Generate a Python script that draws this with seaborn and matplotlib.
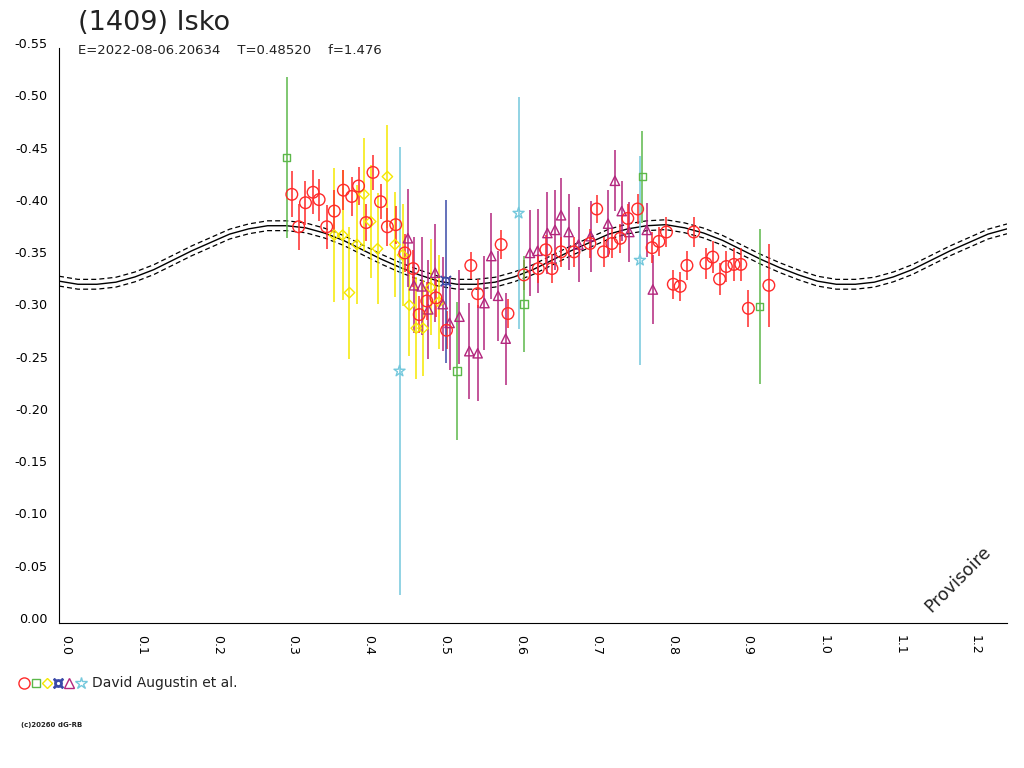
#Libreria
import matplotlib
matplotlib.use("Agg")
import numpy as np
import matplotlib.pyplot as plt
from matplotlib.lines import Line2D
import seaborn as sns

#Datos (fase, magnitud, error)
red_phase = [0.307, 0.316, 0.325, 0.335, 0.343, 0.353, 0.363, 0.375, 0.386, 0.395,
             0.405, 0.414, 0.424, 0.433, 0.444, 0.456, 0.467, 0.475, 0.485, 0.497,
             0.511, 0.543, 0.552, 0.583, 0.592, 0.613, 0.632, 0.642, 0.650, 0.662,
             0.679, 0.700, 0.709, 0.718, 0.729, 0.740, 0.750, 0.763, 0.782, 0.791,
             0.801, 0.810, 0.819, 0.828, 0.837, 0.853, 0.862, 0.871, 0.880, 0.890,
             0.899, 0.909, 0.936]
red_mag = [-0.410, -0.379, -0.402, -0.412, -0.405, -0.379, -0.394, -0.414, -0.408, -0.418,
           -0.383, -0.431, -0.403, -0.379, -0.381, -0.354, -0.339, -0.295, -0.308, -0.311,
           -0.280, -0.342, -0.315, -0.362, -0.296, -0.333, -0.339, -0.357, -0.339, -0.355,
           -0.355, -0.363, -0.396, -0.355, -0.363, -0.368, -0.387, -0.396, -0.359, -0.365,
           -0.374, -0.324, -0.322, -0.342, -0.374, -0.344, -0.350, -0.329, -0.341, -0.343,
           -0.343, -0.301, -0.323]
red_err = [0.022, 0.022, 0.021, 0.021, 0.020, 0.021, 0.020, 0.019, 0.019, 0.018,
           0.018, 0.017, 0.017, 0.018, 0.018, 0.018, 0.018, 0.018, 0.018, 0.018,
           0.018, 0.013, 0.014, 0.014, 0.014, 0.014, 0.014, 0.014, 0.014, 0.014,
           0.014, 0.014, 0.013, 0.014, 0.014, 0.014, 0.014, 0.014, 0.015, 0.014,
           0.014, 0.014, 0.014, 0.014, 0.014, 0.015, 0.015, 0.015, 0.015, 0.016,
           0.016, 0.018, 0.040]

green_phase = [0.300, 0.525, 0.613, 0.769, 0.924]
green_mag = [-0.445, -0.241, -0.305, -0.427, -0.303]
green_err = [0.077, 0.066, 0.046, 0.044, 0.074]

yellow_phase = [0.363, 0.374, 0.383, 0.393, 0.402, 0.411, 0.420, 0.433, 0.443, 0.453,
                0.462, 0.471, 0.480, 0.490, 0.501]
yellow_mag = [-0.371, -0.371, -0.316, -0.362, -0.410, -0.384, -0.358, -0.427, -0.362, -0.352,
              -0.304, -0.282, -0.282, -0.321, -0.307]
yellow_err = [0.064, 0.062, 0.063, 0.057, 0.054, 0.054, 0.053, 0.049, 0.050, 0.049,
              0.049, 0.049, 0.046, 0.046, 0.045]

blue_phase = [0.510]
blue_mag = [-0.327]
blue_err = [0.078]

tri_phase = [0.460, 0.468, 0.478, 0.487, 0.496, 0.506, 0.515, 0.528, 0.541, 0.552,
             0.561, 0.570, 0.579, 0.589, 0.621, 0.631, 0.644, 0.654, 0.662, 0.672,
             0.685, 0.701, 0.724, 0.733, 0.742, 0.752, 0.775, 0.783]
tri_mag = [-0.368, -0.323, -0.322, -0.300, -0.335, -0.305, -0.287, -0.293, -0.260, -0.258,
           -0.306, -0.351, -0.313, -0.272, -0.354, -0.356, -0.373, -0.376, -0.390, -0.374,
           -0.362, -0.370, -0.382, -0.423, -0.394, -0.374, -0.376, -0.319]
tri_err = [0.047, 0.046, 0.047, 0.047, 0.047, 0.045, 0.045, 0.045, 0.046, 0.046,
           0.045, 0.041, 0.043, 0.044, 0.041, 0.040, 0.039, 0.038, 0.036, 0.036,
           0.036, 0.034, 0.032, 0.029, 0.029, 0.029, 0.026, 0.033]

star_phase = [0.449, 0.606, 0.766]
star_mag = [-0.241, -0.392, -0.347]
star_err = [0.214, 0.111, 0.100]

#Curva ajustada leida cada 0.025 de fase
curve_phase = [round(0.025 * i, 3) for i in range(51)]
curve_mag = [-0.327, -0.324, -0.324, -0.326, -0.331, -0.338, -0.347, -0.356, -0.364, -0.372,
             -0.377, -0.380, -0.380, -0.378, -0.373, -0.366, -0.357, -0.348, -0.340, -0.333,
             -0.327, -0.324, -0.324, -0.326, -0.331, -0.338, -0.347, -0.356, -0.364, -0.372,
             -0.377, -0.380, -0.381, -0.378, -0.373, -0.366, -0.357, -0.348, -0.340, -0.333,
             -0.327, -0.324, -0.324, -0.326, -0.331, -0.338, -0.347, -0.356, -0.364, -0.372,
             -0.377]
curve_band = 0.0047

x_ticks = [0.0, 0.1, 0.2, 0.3, 0.4, 0.5, 0.6, 0.7, 0.8, 0.9, 1.0, 1.1, 1.2]
x_labels = ["0.0", "0.1", "0.2", "0.3", "0.4", "0.5", "0.6", "0.7", "0.8", "0.9", "1.0", "1.1", "1.2"]
y_ticks = [0.0, -0.05, -0.10, -0.15, -0.20, -0.25, -0.30, -0.35, -0.40, -0.45, -0.50, -0.55]
y_labels = ["0.00", "-0.05", "-0.10", "-0.15", "-0.20", "-0.25", "-0.30", "-0.35", "-0.40",
            "-0.45", "-0.50", "-0.55"]

title = "(1409) Isko"
subtitle = "E=2022-08-06.20634    T=0.48520    f=1.476"
observer = "David Augustin et al."

RED = "#ff2a2a"
GREEN = "#5cb84a"
YELLOW = "#f5e800"
BLUE = "#3a4aa8"
PURPLE = "#b3267d"
CYAN = "#74c8dc"

sns.set_style("white")
plt.rcParams['font.family'] = ['DejaVu Sans']

fig = plt.figure(figsize=(10.24, 7.68), dpi=100)
ax = fig.add_axes([59 / 1024, 1 - 623 / 768, (1007 - 59) / 1024, (623 - 48) / 768])

#Curva y banda
sns.lineplot(x=curve_phase, y=curve_mag, ax=ax, color="black", lw=1.0, zorder=1)
for sign in (-1, 1):
    sns.lineplot(x=curve_phase, y=np.array(curve_mag) + sign * curve_band, ax=ax,
                 color="black", lw=0.9, linestyle=(0, (4, 2.5)), zorder=1)


def draw_series(phase, mag, err, color, marker, size, filled=False):
    mag = np.array(mag)
    err = np.array(err)
    ax.vlines(phase, mag - err, mag + err, color=color, lw=1.1, zorder=2)
    sns.scatterplot(x=phase, y=mag, ax=ax, marker=marker, s=size, color=color,
                    facecolor=color if filled else "none",
                    edgecolor="none" if filled else color,
                    linewidth=1.0, zorder=3, legend=False)


draw_series(yellow_phase, yellow_mag, yellow_err, YELLOW, "D", 28)
draw_series(tri_phase, tri_mag, tri_err, PURPLE, "^", 45)
draw_series(red_phase, red_mag, red_err, RED, "o", 70)
draw_series(green_phase, green_mag, green_err, GREEN, "s", 28)
draw_series(blue_phase, blue_mag, blue_err, BLUE, "$¤$", 70, filled=True)
draw_series(star_phase, star_mag, star_err, CYAN, "*", 70)

#Ejes
ax.set_xlim(0, 1.25)
ax.set_ylim(0, -0.55)
sns.despine(ax=ax)
for side in ("left", "bottom"):
    ax.spines[side].set_color("black")
    ax.spines[side].set_linewidth(0.8)
ax.set_xticks(x_ticks, x_labels, rotation=-90, ha="left", va="top")
ax.set_xticks([0.05 + 0.1 * i for i in range(13)], minor=True)
ax.set_yticks(y_ticks, y_labels, va="baseline")
ax.tick_params(axis="x", which="major", direction="out", length=7.5, width=0.8,
               pad=1, labelsize=9, colors="black")
ax.tick_params(axis="x", which="minor", direction="out", length=6, width=0.8, colors="black")
ax.tick_params(axis="y", which="major", direction="out", length=7.5, width=0.8,
               pad=0.5, labelsize=9.2, colors="black")
ax.set_xlabel("")
ax.set_ylabel("")
ax.grid(False)

#Textos
fig.text(78 / 1024, 1 - 30 / 768, title, fontsize=19.5, color="#222222", va="baseline")
fig.text(78 / 1024, 1 - 54 / 768, subtitle, fontsize=9.5, color="#222222", va="baseline")
fig.text(958 / 1024, 1 - 579 / 768, "Provisoire", fontsize=12.5, rotation=45,
         ha="center", va="center", color="#222222")

#Leyenda
legend_marks = [(24, "o", RED, 8), (36, "s", GREEN, 5.5), (47, "D", YELLOW, 5.5),
                (58, "$¤$", BLUE, 7), (69, "^", PURPLE, 7), (81, "*", CYAN, 9)]
for xpix, mk, col, ms in legend_marks:
    fig.add_artist(Line2D([xpix / 1024], [1 - 683 / 768], transform=fig.transFigure,
                          marker=mk, ms=ms, mec=col, lw=0,
                          mfc=col if mk == "$¤$" else "none", mew=1.0))
fig.text(92 / 1024, 1 - 683 / 768, observer, fontsize=10, va="center", color="#222222")
fig.text(21 / 1024, 1 - 725 / 768, "(c)20260 dG-RB", fontsize=5, fontweight="bold",
         va="center", color="#222222")

plt.savefig("out.png", dpi=100)
